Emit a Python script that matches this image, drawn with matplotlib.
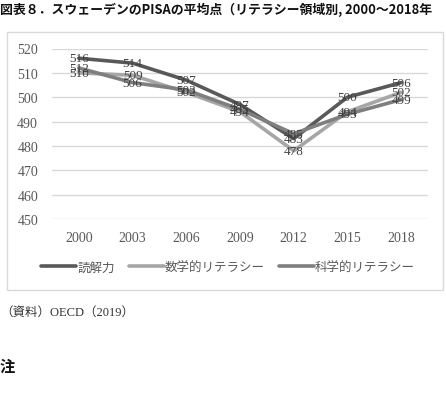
import matplotlib.pyplot as plt
from matplotlib.patches import Rectangle

YEARS = ["2000", "2003", "2006", "2009", "2012", "2015", "2018"]
READING = [516, 514, 507, 497, 483, 500, 506]
MATH = [510, 509, 502, 494, 478, 494, 502]
SCIENCE = [512, 506, 503, 495, 485, 493, 499]
SERIES = [
    ("読解力", READING, "#595959"),
    ("数学的リテラシー", MATH, "#a6a6a6"),
    ("科学的リテラシー", SCIENCE, "#7f7f7f"),
]

SERIF = ["Liberation Serif", "Noto Sans CJK JP"]
JP = ["Noto Sans CJK JP", "DejaVu Sans"]

W, H = 446, 402
fig = plt.figure(figsize=(W / 100, H / 100), dpi=100)

# chart frame
fig.patches.append(Rectangle((7 / W, 1 - 291 / H), 436 / W, 258 / H,
                             transform=fig.transFigure, fill=False,
                             edgecolor="#d9d9d9", lw=1.0))

ax = fig.add_axes([52 / W, 1 - 220 / H, 376 / W, 170.5 / H])
x = list(range(len(YEARS)))
for lbl, vals, color in SERIES:
    ax.plot(x, vals, color=color, lw=2.6, label=lbl, solid_capstyle="round")
for lbl, vals, color in SERIES:
    for xi, v in zip(x, vals):
        ax.text(xi, v, str(v), ha="center", va="center", fontsize=9.5,
                family=SERIF, color="#404040", zorder=5)

ax.set_xlim(-0.5, len(YEARS) - 0.5)
ax.set_ylim(450, 520)
ax.set_yticks(range(450, 521, 10))
ax.set_xticks(x)
ax.set_xticklabels(YEARS)
for t in ax.get_xticklabels() + ax.get_yticklabels():
    t.set_family(SERIF)
    t.set_fontsize(10)
    t.set_color("#595959")
ax.tick_params(axis="y", length=0, pad=10)
ax.tick_params(axis="x", length=0, pad=9)
ax.grid(True, axis="y", color="#d9d9d9", lw=1.0)
ax.set_axisbelow(True)
for s in ax.spines.values():
    s.set_visible(False)

leg = fig.legend(loc="center", bbox_to_anchor=(228 / W, 1 - 268 / H), ncol=3,
                 frameon=False, handlelength=2.8, handletextpad=0.1,
                 columnspacing=1.1, prop={"family": JP, "size": 9})
for t in leg.get_texts():
    t.set_color("#595959")

fig.text(0, 1 - 10 / H, "図表８．スウェーデンのPISAの平均点（リテラシー領域別, 2000～2018年",
         ha="left", va="center", fontsize=9.3, family=JP, fontweight="bold",
         color="#111111")
fig.text(0, 1 - 313 / H, "（資料）OECD（2019）", ha="left", va="center",
         fontsize=9, family=SERIF, color="#333333")
fig.text(0, 1 - 367 / H, "注", ha="left", va="center", fontsize=11,
         family=JP, fontweight="bold", color="#111111")

fig.savefig("out.png", dpi=100)
